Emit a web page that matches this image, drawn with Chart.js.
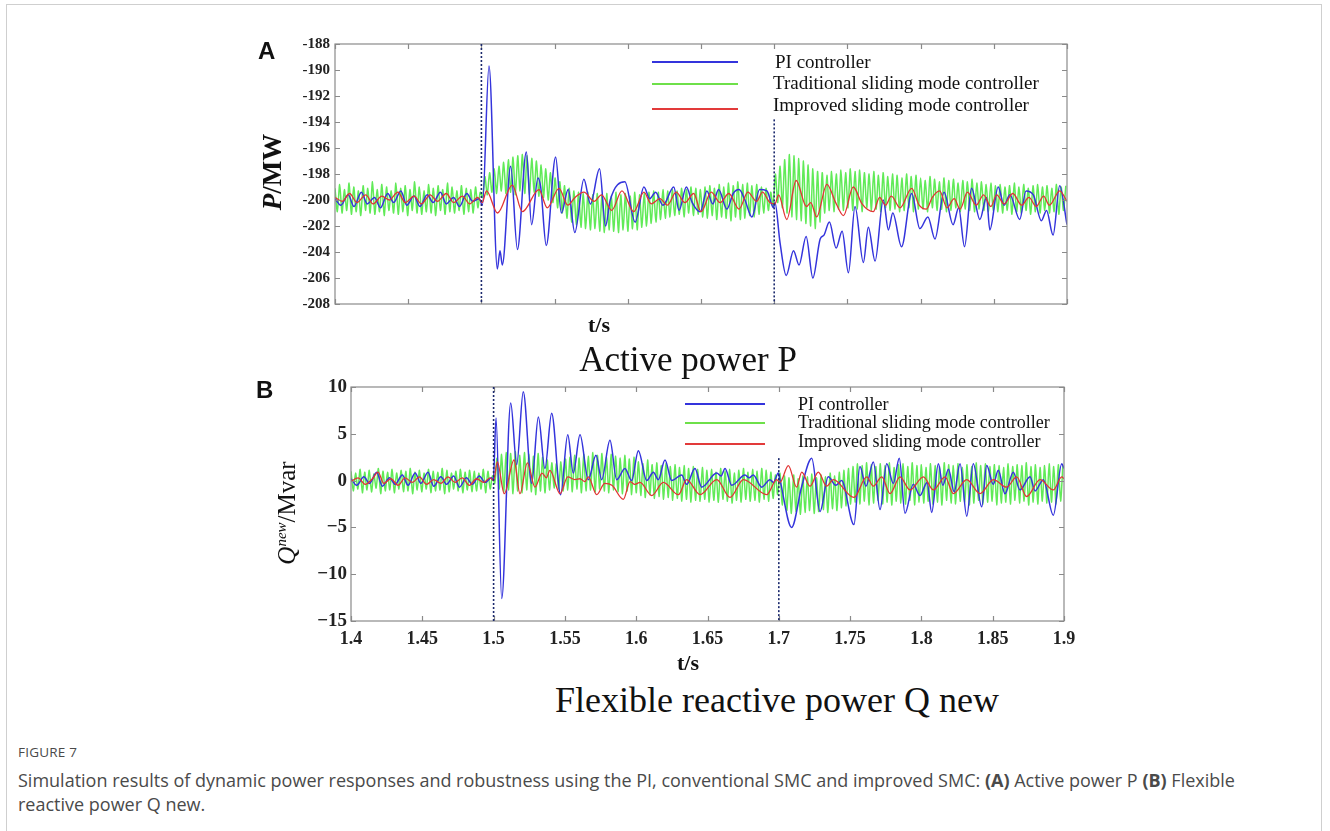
<!DOCTYPE html>
<html>
<head>
<meta charset="utf-8">
<script src="https://cdn.jsdelivr.net/npm/chart.js@4.4.1/dist/chart.umd.min.js"></script>
<style>
  html, body { margin: 0; padding: 0; background: #fff; }
  body { width: 1330px; height: 831px; position: relative; overflow: hidden; }
  .card { position: absolute; left: 6px; top: 4px; width: 1316px; height: 900px; border: 1px solid #cfcfcf; box-sizing: border-box; }
  canvas { position: absolute; left: 0; }
  .t { position: absolute; white-space: nowrap; color: #111; font-family: "Liberation Serif", "Times New Roman", serif; }
  .c { transform: translate(-50%, -50%); }
  .rot { transform: translate(-50%, -50%) rotate(-90deg); }
  .panel { font-family: "Liberation Sans", Arial, sans-serif; font-weight: bold; font-size: 24px; }
  .leg { position: absolute; height: 2px; }
  .cap { position: absolute; left: 18px; font-family: "Open Sans", "Noto Sans", sans-serif; color: #4a4a4a; }
</style>
</head>
<body>
<div class="card"></div>
<canvas id="chartA" width="1330" height="330" style="top:0"></canvas>
<canvas id="chartB" width="1330" height="290" style="top:370px"></canvas>

<div class="t panel" style="left:258px;top:37px">A</div>
<div class="t panel" style="left:256px;top:376px">B</div>

<div class="t rot" style="left:272px;top:172px;font-size:27px;font-weight:bold"><i>P</i>/MW</div>
<div class="t rot" style="left:287px;top:513px;font-size:25px"><i>Q<sup style="font-size:15px">new</sup></i>/Mvar</div>

<div class="t c" style="left:599px;top:325px;font-size:22px;font-weight:bold">t/s</div>
<div class="t c" style="left:688px;top:360px;font-size:35px">Active power P</div>
<div class="t c" style="left:688px;top:663px;font-size:22px;font-weight:bold">t/s</div>
<div class="t c" style="left:777px;top:700px;font-size:36px">Flexible reactive power Q new</div>

<!-- legend A -->
<div class="leg" style="left:652px;top:61px;width:86px;background:#3434dc"></div>
<div class="leg" style="left:652px;top:83px;width:86px;background:#6ee04a"></div>
<div class="leg" style="left:652px;top:108px;width:86px;background:#e23a3a"></div>
<div class="t" style="left:775px;top:51px;font-size:19px">PI controller</div>
<div class="t" style="left:773px;top:72px;font-size:19px">Traditional sliding mode controller</div>
<div class="t" style="left:773px;top:94px;font-size:19px">Improved sliding mode controller</div>

<!-- legend B -->
<div class="leg" style="left:685px;top:403px;width:80px;background:#3434dc"></div>
<div class="leg" style="left:685px;top:422px;width:80px;background:#6ee04a"></div>
<div class="leg" style="left:685px;top:443px;width:80px;background:#e23a3a"></div>
<div class="t" style="left:798px;top:394px;font-size:18px">PI controller</div>
<div class="t" style="left:798px;top:412px;font-size:18px">Traditional sliding mode controller</div>
<div class="t" style="left:798px;top:431px;font-size:18px">Improved sliding mode controller</div>

<div class="cap" style="top:743px;font-size:13.5px;letter-spacing:0.2px;white-space:nowrap">FIGURE 7</div>
<div class="cap" style="top:768px;font-size:18px;line-height:24px;width:1255px">Simulation results of dynamic power responses and robustness using the PI, conventional SMC and improved SMC: <b>(A)</b> Active power P <b>(B)</b> Flexible reactive power Q new.</div>

<script>
// ---- panel A: active power P (MW) ----
const piA_t = [1.400,1.404,1.409,1.413,1.418,1.422,1.427,1.431,1.436,1.440,1.445,1.449,1.454,1.458,1.463,1.467,1.472,1.476,1.481,1.485,1.490,1.494,1.4985,
  1.5007,1.5052,1.5109,1.5127,1.5143,1.5200,1.5246,1.5307,1.5343,1.5386,1.5405,1.5443,1.5507,1.5546,1.5593,1.5638,1.5700,1.5745,1.5807,1.5848,1.5880,
  1.5980,1.6050,1.6110,1.6150,1.6190,1.6240,1.6314,1.6350,1.6400,1.6440,1.6495,1.6540,1.6580,1.6620,1.6677,1.6720,1.6760,1.6800,1.6848,1.6900,1.6950,1.6995,
  1.7005,1.7040,1.7082,1.7132,1.7170,1.7218,1.7264,1.7314,1.7340,1.7377,1.7423,1.7464,1.7507,1.7552,1.7609,1.7643,1.7689,1.7745,1.7780,1.7810,1.7870,
  1.7939,1.7995,1.8050,1.8098,1.8160,1.8222,1.8260,1.8300,1.8348,1.8405,1.8450,1.8473,1.8530,1.8570,1.8610,1.8677,1.8720,1.8770,1.8825,1.8860,1.8905,1.8950,1.9000];
const piA_v = [-199.9,-200.4,-199.6,-200.5,-199.4,-200.3,-199.8,-200.6,-199.5,-200.2,-199.3,-200.4,-199.7,-200.5,-199.6,-200.2,-199.4,-200.3,-199.8,-200.5,-199.5,-200.1,-199.9,
  -200.4,-189.7,-205.3,-203.9,-205.0,-197.4,-203.8,-196.3,-201.9,-198.3,-199.0,-203.5,-196.7,-201.0,-199.2,-202.5,-198.4,-200.3,-197.6,-202.0,-200.0,
  -198.6,-201.7,-199.0,-199.9,-199.4,-200.4,-199.0,-200.8,-199.0,-200.2,-200.9,-199.3,-200.3,-199.2,-200.7,-199.5,-199.2,-200.0,-201.3,-199.2,-199.3,-200.6,
  -200.2,-203.3,-205.8,-203.9,-205.0,-202.8,-206.0,-203.0,-202.7,-201.7,-203.7,-202.4,-205.6,-200.5,-204.8,-202.1,-204.7,-200.0,-202.3,-201.0,-203.6,
  -199.5,-202.2,-201.3,-203.0,-199.4,-201.9,-200.6,-203.6,-199.1,-201.5,-199.8,-202.3,-199.0,-200.4,-199.6,-201.5,-199.3,-199.6,-201.6,-200.8,-202.7,-198.9,-201.9];

const impA_t = [1.400,1.405,1.410,1.415,1.421,1.426,1.432,1.437,1.443,1.448,1.454,1.459,1.465,1.470,1.476,1.481,1.487,1.492,1.4975,
  1.5005,1.5035,1.5110,1.5211,1.5280,1.5393,1.5450,1.5530,1.5590,1.5640,1.5700,1.5770,1.5820,1.5890,1.5960,1.6040,1.6110,1.6160,1.6220,1.6270,1.6330,
  1.6390,1.6450,1.6500,1.6570,1.6630,1.6690,1.6760,1.6820,1.6880,1.6920,1.6970,
  1.7005,1.7030,1.7086,1.7150,1.7220,1.7250,1.7290,1.7360,1.7420,1.7473,1.7540,1.7600,1.7677,1.7720,1.7760,1.7800,1.7860,1.7939,1.7990,1.8040,1.8080,
  1.8130,1.8180,1.8230,1.8270,1.8320,1.8380,1.8430,1.8480,1.8520,1.8570,1.8630,1.8690,1.8740,1.8790,1.8840,1.8880,1.8950,1.9000];
const impA_v = [-199.8,-200.1,-199.5,-200.2,-199.6,-200.3,-199.7,-200.0,-199.4,-200.2,-199.7,-200.3,-199.6,-200.1,-199.5,-200.2,-199.7,-200.3,-199.8,
  -200.2,-199.3,-201.0,-198.85,-200.9,-199.2,-200.6,-199.1,-200.4,-199.8,-199.4,-200.1,-199.6,-200.8,-199.3,-200.9,-199.4,-200.3,-199.9,-200.4,-199.4,
  -200.2,-199.5,-200.9,-199.4,-200.2,-199.5,-200.7,-199.4,-200.1,-199.4,-200.2,
  -200.3,-199.6,-201.5,-198.5,-200.5,-200.2,-201.3,-198.8,-200.2,-201.2,-199.0,-200.3,-200.9,-199.8,-200.4,-199.7,-200.6,-199.1,-200.4,-200.7,-199.8,
  -199.3,-200.6,-199.9,-200.7,-199.4,-200.4,-199.6,-200.5,-199.6,-200.3,-199.5,-200.4,-199.8,-200.5,-199.7,-200.4,-199.3,-200.1];

// traditional SMC chatters fast: successive peaks / troughs every half period
const GREEN_T0 = 1.4;
const GREEN_HALF = 0.0016;
const smcA_peaks = [-199.1,-198.8,-199.2,-198.7,-199.0,-199.3,-198.9,-199.1,-198.6,-199.2,-198.8,-199.0,-199.3,-198.7,-199.1,-198.9,-199.2,-198.6,-199.0,-199.3,-198.8,-199.1,-198.9,-199.2,-198.7,-199.0,-199.3,-198.9,-199.1,-199.2,-199.0,
  -199.4,
  -198.2,-197.9,-197.6,-197.4,-197.1,-196.9,-196.7,-196.6,-196.5,-196.6,-196.8,-197.0,-197.3,-197.6,-197.9,
  -198.3,-198.6,-198.9,-199.1,-199.3,-199.4,-199.5,-199.4,-199.6,-199.5,
  -199.6,-199.5,-199.7,-199.4,-199.6,-199.5,-199.7,-199.4,-199.6,-199.5,-199.4,-199.3,-199.4,-199.2,-199.3,
  -199.2,-199.3,-199.1,-199.2,-199.0,-199.1,-199.2,-199.0,-198.9,-199.1,-198.8,-199.0,-198.7,-198.9,-198.6,-198.8,-198.7,-198.9,-198.8,-199.0,-199.1,-199.4,
  -198.0,-197.4,-196.9,-196.5,-196.6,-196.8,-197.0,-197.3,-197.6,-197.8,
  -197.9,-198.1,-197.8,-198.0,-197.7,-197.9,-197.6,-197.8,-197.7,-197.9,-198.0,-197.8,-198.1,-197.9,-198.2,-198.0,-198.1,-198.3,-198.0,-198.2,-198.1,
  -198.3,-198.5,-198.2,-198.4,-198.6,-198.3,-198.5,-198.4,-198.7,-198.5,-198.6,-198.4,-198.7,-198.6,-198.8,-198.7,
  -198.9,-198.8,-199.0,-198.9,-198.7,-199.0,-198.8,-199.1,-198.9,-198.8,-199.0,-198.9,-199.1,-198.8,-199.0,-198.9];
const smcA_troughs = [-200.9,-201.0,-200.8,-201.1,-200.9,-201.2,-200.8,-201.0,-201.1,-200.9,-201.2,-200.8,-201.0,-201.1,-200.9,-201.2,-200.8,-201.0,-201.1,-200.9,-201.0,-201.2,-200.8,-201.1,-200.9,-201.0,-200.8,-201.1,-200.9,-201.0,-200.6,
  -199.8,
  -199.6,-199.4,-199.5,-199.3,-199.5,-199.4,-199.6,-199.3,-199.5,-199.6,-199.4,-199.7,-199.8,-200.0,-200.2,
  -200.6,-201.0,-201.4,-201.7,-201.9,-202.1,-202.2,-202.3,-202.2,-202.4,
  -202.5,-202.3,-202.4,-202.5,-202.3,-202.4,-202.2,-202.3,-202.1,-202.0,-201.8,-201.7,-201.5,-201.4,-201.3,
  -201.2,-201.1,-201.3,-201.0,-201.2,-201.1,-201.3,-201.4,-201.2,-201.5,-201.3,-201.4,-201.6,-201.3,-201.5,-201.4,-201.2,-201.3,-201.1,-201.0,-200.8,-200.5,
  -200.2,-200.6,-201.0,-201.3,-201.5,-201.6,-201.8,-202.0,-202.2,-201.7,
  -201.0,-200.8,-200.9,-200.7,-200.8,-200.6,-200.8,-200.7,-200.9,-200.6,-200.8,-200.7,-200.9,-200.6,-200.8,-200.7,-200.9,-200.8,-200.6,-200.9,-200.7,
  -200.7,-200.9,-200.6,-200.8,-200.7,-200.9,-200.8,-200.6,-200.9,-200.7,-200.8,-200.9,-200.7,-200.8,-200.9,-200.8,
  -200.9,-201.0,-200.8,-201.1,-200.9,-201.0,-200.8,-201.1,-200.9,-201.0,-200.8,-201.0,-200.9,-201.1,-200.8];

// ---- panel B: flexible reactive power Q new (Mvar) ----
const piB_t = [1.400,1.404,1.409,1.413,1.418,1.422,1.427,1.431,1.436,1.440,1.445,1.449,1.454,1.458,1.463,1.467,1.472,1.476,1.481,1.485,1.490,1.494,1.4985,
  1.4998,1.5017,1.5057,1.5120,1.5162,1.5208,1.5267,1.5314,1.5360,1.5407,1.5470,1.5520,1.5559,1.5606,1.5664,1.5718,1.5758,1.5816,1.5863,1.5921,1.5968,
  1.6015,1.6074,1.6120,1.6155,1.6202,1.6249,1.6319,1.6354,1.6412,1.6459,1.6565,1.6595,1.6623,1.6670,1.6763,1.6792,1.6821,1.6880,1.6938,1.6962,1.6997,
  1.7008,1.7090,1.7161,1.7231,1.7289,1.7347,1.7400,1.7440,1.7527,1.7569,1.7611,1.7663,1.7710,1.7757,1.7803,1.7845,1.7885,1.7943,1.7990,1.8040,1.8072,
  1.8119,1.8150,1.8190,1.8230,1.8271,1.8318,1.8364,1.8423,1.8458,1.8504,1.8539,1.8586,1.8644,1.8691,1.8762,1.8797,1.8855,1.8925,1.8984,1.9000];
const piB_v = [0.2,-0.5,0.4,-0.3,0.9,-0.6,0.3,-0.4,0.6,-0.5,0.8,-0.3,0.9,-0.6,0.4,-0.4,0.5,-0.7,0.3,-0.4,0.5,-0.2,0.3,
  0.0,6.7,-12.6,8.3,1.7,9.5,-0.3,6.8,1.3,7.2,-1.5,4.9,0.8,4.9,0.1,2.7,0.1,4.3,0.1,1.3,0.0,
  3.2,0.0,0.9,0.1,2.2,0.0,0.6,-0.4,1.3,-0.7,0.8,0.5,1.3,-0.5,0.6,0.3,0.6,-0.7,0.1,-0.2,0.8,
  0.1,-5.0,-0.6,2.4,-3.3,0.4,-0.5,0.0,-4.7,1.5,-0.6,2.0,-3.1,1.8,-0.3,2.4,-3.5,-0.4,-1.6,-0.2,-3.4,
  1.8,-0.5,1.2,-1.2,1.8,-3.8,1.8,-2.8,1.6,-0.4,1.1,-1.4,0.9,-1.0,0.4,-1.1,0.1,-3.7,1.8,1.3];

const impB_t = [1.400,1.405,1.410,1.415,1.419,1.423,1.428,1.433,1.438,1.443,1.448,1.453,1.458,1.463,1.468,1.473,1.478,1.483,1.488,1.493,1.4975,1.5000,
  1.5026,1.5075,1.5143,1.5185,1.5237,1.5290,1.5340,1.5370,1.5395,1.5466,1.5520,1.5570,1.5606,1.5640,1.5664,1.5723,1.5780,1.5830,1.5910,1.5957,1.5990,
  1.6027,1.6109,1.6190,1.6296,1.6354,1.6448,1.6565,1.6658,1.6752,1.6915,1.6985,
  1.7008,1.7067,1.7125,1.7161,1.7219,1.7277,1.7336,1.7382,1.7527,1.7616,1.7663,1.7722,1.7780,1.7850,1.7920,1.8014,1.8084,1.8166,1.8224,1.8318,
  1.8411,1.8505,1.8598,1.8668,1.8738,1.8832,1.8925,1.8984,1.9000];
const impB_v = [-0.1,0.3,-0.4,0.2,0.9,-0.3,0.2,-0.5,0.3,-0.2,0.4,-0.4,0.1,-0.3,0.4,-0.2,0.3,-0.5,0.2,-0.2,0.3,0.0,
  2.0,-1.4,2.2,-1.4,1.9,-0.7,0.8,0.3,1.1,-1.4,0.4,0.1,0.2,-0.1,0.4,-1.5,-0.3,-0.5,-2.0,-0.1,-0.4,
  -0.2,-1.6,-0.2,-1.5,0.1,-1.5,0.1,-1.8,0.1,-1.5,0.1,
  -0.2,1.6,-0.7,0.9,-0.6,0.9,-0.6,0.1,-1.8,0.4,-0.6,0.4,-1.4,0.4,-1.0,0.4,-1.0,0.4,-1.4,0.1,
  -1.4,0.1,-0.7,0.4,-1.7,0.1,-1.0,0.4,0.2];

const smcB_peaks = [1.0,0.8,1.2,0.9,1.1,0.7,1.3,1.0,0.9,1.2,0.8,1.1,1.0,1.3,0.9,1.1,0.8,1.2,1.0,0.9,1.3,1.1,0.8,1.0,1.2,0.9,1.1,1.0,0.8,1.2,1.0,
  0.5,
  2.4,2.8,3.0,2.9,3.1,2.7,3.0,2.8,2.6,2.9,2.5,2.2,1.9,1.8,2.0,
  2.3,2.5,2.7,2.4,2.8,2.6,3.0,2.7,2.9,2.5,2.8,2.6,2.4,2.7,2.3,2.5,
  2.0,1.8,2.2,1.7,1.9,1.6,1.8,1.5,1.7,1.4,1.6,1.3,1.5,1.2,1.4,1.1,
  1.2,0.9,1.3,1.0,1.2,0.8,1.1,1.3,0.9,1.2,1.0,1.3,1.1,0.9,0.6,
  0.8,0.5,0.3,0.6,0.2,0.5,0.4,0.7,0.3,0.6,0.4,0.8,0.5,0.9,1.1,1.3,
  1.5,1.8,1.6,1.9,1.7,1.5,1.8,1.6,1.9,1.4,1.7,1.8,1.5,1.9,1.6,1.7,1.4,1.8,1.6,1.5,1.9,1.7,1.6,1.8,1.4,
  1.7,1.5,1.9,1.6,1.8,1.5,1.7,1.6,1.4,1.8,1.5,1.7,1.6,1.9,1.5,1.7,1.4,1.6,1.8,1.5,1.7,1.6];
const smcB_troughs = [-1.1,-0.9,-1.3,-1.0,-1.2,-0.8,-1.4,-1.1,-1.0,-1.3,-0.9,-1.2,-1.1,-1.4,-1.0,-1.2,-0.9,-1.3,-1.1,-1.0,-1.4,-1.2,-0.9,-1.1,-1.3,-1.0,-1.2,-1.1,-0.9,-1.3,-0.9,
  -0.3,
  -0.9,-1.2,-1.0,-1.4,-1.1,-1.3,-1.0,-1.2,-1.5,-1.1,-1.3,-1.0,-0.8,-0.9,-1.1,
  -1.0,-1.2,-0.9,-1.3,-1.1,-1.0,-1.2,-0.9,-1.1,-1.3,-1.0,-1.2,-1.4,-1.1,-1.5,-1.3,
  -1.6,-1.8,-1.5,-1.9,-1.7,-2.0,-1.8,-2.1,-1.9,-2.2,-2.0,-2.3,-2.1,-2.2,-2.0,-2.3,
  -2.1,-2.3,-2.0,-2.2,-2.4,-2.1,-2.3,-2.0,-2.2,-2.1,-2.3,-2.0,-2.2,-1.9,-1.5,
  -2.6,-3.2,-3.5,-3.3,-3.6,-3.4,-3.2,-3.5,-3.3,-3.1,-3.4,-3.0,-3.2,-2.9,-2.7,-2.5,
  -2.3,-2.5,-2.2,-2.6,-2.4,-2.1,-2.5,-2.3,-2.6,-2.2,-2.4,-2.5,-2.1,-2.6,-2.3,-2.4,-2.2,-2.5,-2.3,-2.6,-2.1,-2.4,-2.5,
  -2.2,-2.3,-2.6,-2.4,-2.1,-2.5,-2.3,-2.2,-2.6,-2.4,-2.3,-2.5,-2.1,-2.4,-2.2,-2.6,-2.3,-2.5,-2.2,-2.4,-2.3,-2.5,-2.2];

// fault instants (dotted markers) and where the second marker starts
const faultTimes = [1.5, 1.7];
const markerTopA = [-188, -193.8];
const markerTopB = [10, 2.4];

const xTicks = [1.4, 1.45, 1.5, 1.55, 1.6, 1.65, 1.7, 1.75, 1.8, 1.85, 1.9];
const yTicksA = [-208, -206, -204, -202, -200, -198, -196, -194, -192, -190, -188];
const yTicksB = [-15, -10, -5, 0, 5, 10];

const BLUE = 'rgb(52,52,220)';
const GREEN = 'rgba(80,232,70,0.9)';
const RED = 'rgb(226,52,52)';

function pairs(ts, vs) {
  return ts.map((t, i) => ({ x: t, y: vs[i] }));
}
function chatter(peaks, troughs) {
  const pts = [];
  peaks.forEach((p, i) => {
    pts.push({ x: GREEN_T0 + 2 * i * GREEN_HALF, y: p });
    if (troughs[i] !== undefined) pts.push({ x: GREEN_T0 + (2 * i + 1) * GREEN_HALF, y: troughs[i] });
  });
  return pts;
}

// box, inward ticks on all four sides, dotted fault markers
const framePlugin = {
  id: 'frame',
  afterDatasetsDraw(chart, args, opts) {
    const { ctx, chartArea: a, scales: { x, y } } = chart;
    ctx.save();
    ctx.strokeStyle = '#8a8a8a';
    ctx.lineWidth = 1.2;
    ctx.strokeRect(a.left, a.top, a.right - a.left, a.bottom - a.top);
    ctx.beginPath();
    x.ticks.forEach(t => {
      const px = Math.round(x.getPixelForValue(t.value)) + 0.5;
      ctx.moveTo(px, a.bottom); ctx.lineTo(px, a.bottom - 5);
      ctx.moveTo(px, a.top); ctx.lineTo(px, a.top + 5);
    });
    y.ticks.forEach(t => {
      const py = Math.round(y.getPixelForValue(t.value)) + 0.5;
      ctx.moveTo(a.left, py); ctx.lineTo(a.left + 5, py);
      ctx.moveTo(a.right, py); ctx.lineTo(a.right - 5, py);
    });
    ctx.stroke();
    ctx.strokeStyle = '#1c2a6e';
    ctx.lineWidth = 1.6;
    ctx.setLineDash([2, 2]);
    faultTimes.forEach((t, i) => {
      const px = x.getPixelForValue(t);
      ctx.beginPath();
      ctx.moveTo(px, y.getPixelForValue(opts.tops[i]));
      ctx.lineTo(px, a.bottom);
      ctx.stroke();
    });
    ctx.restore();
  }
};

function makeChart(id, cfg) {
  return new Chart(document.getElementById(id), {
    type: 'line',
    data: {
      datasets: [
        { data: cfg.red, borderColor: RED, borderWidth: 1.3, order: 0, cubicInterpolationMode: 'monotone' },
        { data: cfg.blue, borderColor: BLUE, borderWidth: 1.5, order: 1, cubicInterpolationMode: 'monotone' },
        { data: cfg.green, borderColor: GREEN, borderWidth: 1.5, order: 2, tension: 0.25 }
      ]
    },
    options: {
      responsive: false,
      animation: false,
      devicePixelRatio: 1,
      elements: { point: { radius: 0 } },
      layout: { padding: cfg.padding },
      plugins: { legend: { display: false }, tooltip: { enabled: false }, frame: { tops: cfg.tops } },
      scales: {
        x: {
          type: 'linear', min: 1.4, max: 1.9,
          afterBuildTicks: s => { s.ticks = xTicks.map(v => ({ value: v })); },
          grid: { display: false, drawTicks: false },
          border: { display: false },
          ticks: {
            display: cfg.xLabels, padding: 8, color: '#222',
            font: { family: 'Liberation Serif', size: 18, weight: 'bold' },
            callback: v => String(Number(v.toFixed(2)))
          },
          afterFit: s => { s.height = cfg.xHeight; }
        },
        y: {
          min: cfg.yTicks[0], max: cfg.yTicks[cfg.yTicks.length - 1],
          afterBuildTicks: s => { s.ticks = cfg.yTicks.map(v => ({ value: v })); },
          grid: { display: false, drawTicks: false },
          border: { display: false },
          ticks: {
            padding: cfg.yPad, color: '#222',
            font: { family: 'Liberation Serif', size: cfg.yFont, weight: 'bold' },
            callback: v => cfg.minus ? String(v).replace('-', '\u2212') : String(v)
          },
          afterFit: s => { s.width = 60; }
        }
      }
    },
    plugins: [framePlugin]
  });
}

makeChart('chartA', {
  red: pairs(impA_t, impA_v), blue: pairs(piA_t, piA_v), green: chatter(smcA_peaks, smcA_troughs),
  yTicks: yTicksA, yFont: 15, yPad: 5, minus: false, xLabels: false, xHeight: 10,
  padding: { left: 275, right: 263, top: 44, bottom: 16 }, tops: markerTopA
});
makeChart('chartB', {
  red: pairs(impB_t, impB_v), blue: pairs(piB_t, piB_v), green: chatter(smcB_peaks, smcB_troughs),
  yTicks: yTicksB, yFont: 19, yPad: 4, minus: true, xLabels: true, xHeight: 30,
  padding: { left: 291, right: 266, top: 17, bottom: 9 }, tops: markerTopB
});
</script>
</body>
</html>
